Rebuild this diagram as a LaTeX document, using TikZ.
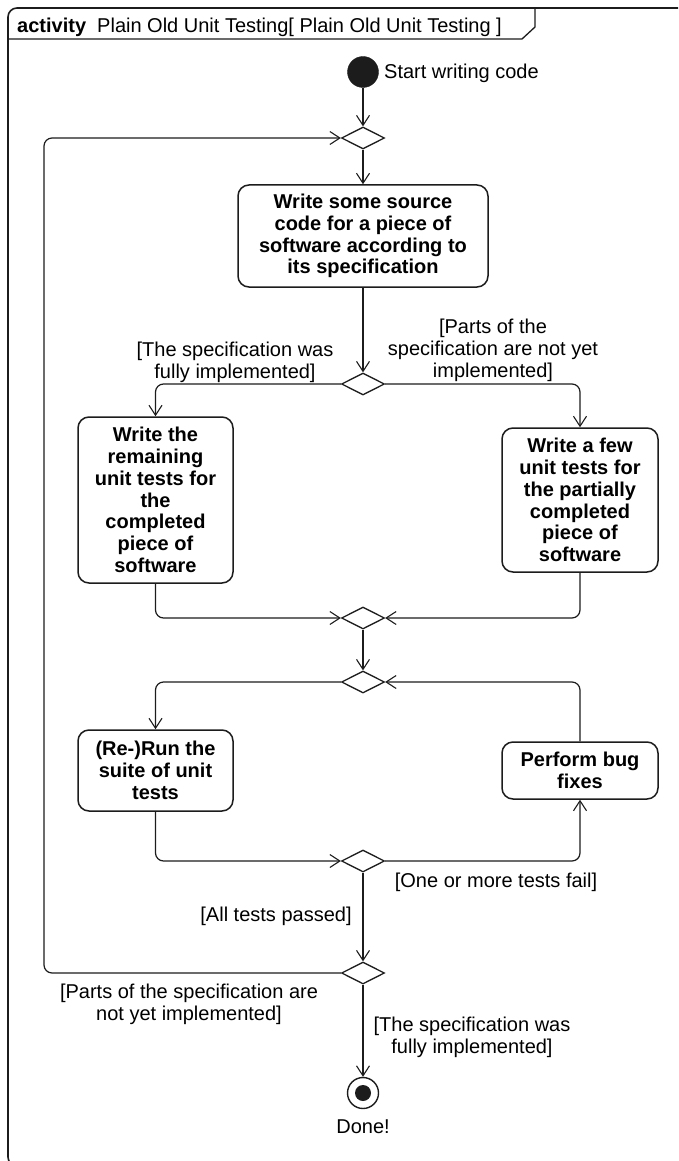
\documentclass[tikz,border=0pt]{standalone}
\usepackage{fontspec}
\setmainfont{Liberation Sans}
\usetikzlibrary{shapes.geometric,arrows.meta}
\definecolor{ink}{HTML}{1C1C1C}
\begin{document}
\begin{tikzpicture}[x=1pt,y=-1pt,
  line/.style={draw=ink, line width=1.2pt},
  flow/.style={line, rounded corners=8pt,
    -{Straight Barb[length=10pt,width=13pt,line width=1.1pt]}},
  action/.style={draw=ink, line width=1.5pt, rounded corners=11pt,
    align=center, inner sep=0pt, text=black,
    font=\bfseries\fontsize{20}{21.8}\selectfont},
  decision/.style={diamond, draw=ink, line width=1.3pt, fill=white,
    inner sep=0pt, minimum width=43pt, minimum height=22pt},
  guard/.style={align=center, inner sep=0pt, text=black,
    font=\fontsize{20}{22}\selectfont},
]
\useasboundingbox (0,0) rectangle (678,1161);

% diagram frame with its name tab
\begin{scope}
  \clip (0,0) rectangle (678,1161);
  \draw[draw=ink, line width=1.6pt, rounded corners=9pt] (8,8) rectangle (720,1166);
\end{scope}
\draw[draw=ink, line width=1.3pt] (8,39) -- (522,39) -- (535,27) -- (535,8);
\node[anchor=base west, inner sep=0pt, font=\fontsize{20}{22}\selectfont]
  (title) at (17,33) {\textbf{activity}\ \ Plain Old Unit Testing[ Plain Old Unit Testing ]};

% initial and final nodes
\node[circle, fill=ink, draw=ink, minimum size=31pt, inner sep=0pt] (start) at (363,72) {};
\node[anchor=west, guard] (startlbl) at (384,73) {Start writing code};

\node[circle, draw=ink, line width=1.4pt, fill=white, minimum size=31pt, inner sep=0pt] (done) at (363,1093) {};
\node[circle, fill=ink, minimum size=16pt, inner sep=0pt] (donedot) at (done) {};
\node[guard] (donelbl) at (363,1127) {Done!};

% decision / merge nodes
\node[decision] (d1) at (363,138) {};
\node[decision] (d2) at (363,384) {};
\node[decision] (d3) at (363,618) {};
\node[decision] (d4) at (363,682) {};
\node[decision] (d5) at (363,861) {};
\node[decision] (d6) at (363,973) {};

% actions
\node[action, minimum width=250pt, minimum height=102pt] (write) at (363,236)
  {Write some source\\code for a piece of\\software according to\\its specification};
\node[action, minimum width=155pt, minimum height=166pt] (alltests) at (155.5,500)
  {Write the\\remaining\\unit tests for\\the\\completed\\piece of\\software};
\node[action, minimum width=156pt, minimum height=144pt] (fewtests) at (580,500)
  {Write a few\\unit tests for\\the partially\\completed\\piece of\\software};
\node[action, minimum width=155pt, minimum height=81pt] (run) at (155.5,770.5)
  {(Re-)Run the\\suite of unit\\tests};
\node[action, minimum width=156pt, minimum height=57pt] (fix) at (580,770.5)
  {Perform bug\\fixes};

% bend point of the outer loop
\coordinate (loopx) at (44,560);

% control flows
\draw[flow] (start) -- (d1);
\draw[flow] (d1) -- (write);
\draw[flow] (write) -- (d2);
\draw[flow] (d2.west) -| (alltests);
\draw[flow] (d2.east) -| (fewtests);
\draw[flow] (alltests) |- (d3.west);
\draw[flow] (fewtests) |- (d3.east);
\draw[flow] (d3) -- (d4);
\draw[flow] (d4.west) -| (run);
\draw[flow] (fix) |- (d4.east);
\draw[flow] (run) |- (d5.west);
\draw[flow] (d5.east) -| (fix);
\draw[flow] (d5) -- (d6);
\draw[flow] (d6.west) -| (loopx) |- (d1.west);
\draw[flow] (d6) -- (done);

% guards
\node[guard] (g1) at (235,362) {[The specification was\\fully implemented]};
\node[guard] (g2) at (493,350) {[Parts of the\\specification are not yet\\implemented]};
\node[guard] (g3) at (496,882) {[One or more tests fail]};
\node[guard] (g4) at (276,916) {[All tests passed]};
\node[guard] (g5) at (189,1004) {[Parts of the specification are\\not yet implemented]};
\node[guard] (g6) at (472,1037) {[The specification was\\fully implemented]};
\end{tikzpicture}
\end{document}
